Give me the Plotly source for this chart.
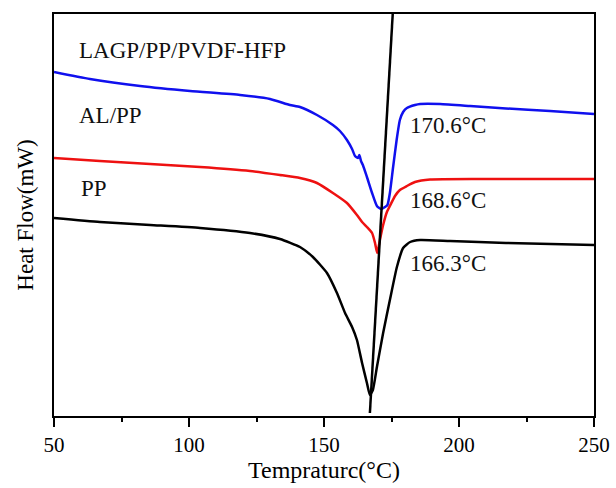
import plotly.graph_objects as go

# Temperature (°C) and heat flow (arbitrary units)
blue_T = [50, 63.3, 81.9, 100.4, 118.9, 130, 137.4, 141.1, 147.4, 153.3, 155.9, 158.5, 160.4,
          161.5, 162.6, 163.1, 163.7, 164.4, 165.9, 167.8, 169.6, 171.1, 172.6, 173.5, 174.4,
          175.6, 176.9, 178.1, 179.3, 180.7, 183.7, 185.6, 193.0, 204.1, 217.4, 233.7, 250]
blue_H = [344, 337, 330, 325, 321, 317, 311, 309, 301, 291, 285, 276, 267,
          260, 258, 261, 255, 251, 239, 223, 210, 207, 209, 211, 223,
          249, 276, 296, 304, 308, 311, 312, 312, 310, 307.5, 305, 302]

red_T = [50, 67.0, 85.6, 104.1, 122.6, 133.7, 141.1, 147.4, 153.3, 158.5, 162.2, 164.1, 165.9,
         167.8, 168.9, 169.7, 170.7, 171.9, 173.3, 174.4, 176.3, 178.1, 180.7, 183.7, 189.3, 207.8, 250]
red_H = [258, 255, 252, 249, 245, 241, 238, 233, 223, 213, 201, 194, 189,
         183, 173, 163, 176, 191, 204, 210, 220, 226, 230, 234, 236.5, 237, 237]

black_T = [50, 67.0, 85.6, 104.1, 122.6, 133.7, 141.1, 145.9, 151.1, 154.8, 157.8, 160.4, 162.2,
           164.1, 165.9, 167.0, 168.1, 169.6, 171.9, 174.4, 177.0, 179.3, 181.9, 185.6, 196.7, 217.4, 250]
black_H = [198, 194, 191, 188, 183, 177, 169, 159, 143, 123, 103, 89, 76,
           53, 33, 21, 26, 49, 83, 116, 149, 168, 174, 176, 175, 173, 171]

tangent_T = [167.0, 175.45]
tangent_H = [3, 402]

sample_labels = ["LAGP/PP/PVDF-HFP", "AL/PP", "PP"]
sample_label_T = [58.4, 58.4, 59.1]
sample_label_H = [366, 301, 228]

peak_labels = ["170.6°C", "168.6°C", "166.3°C"]
peak_label_T = [181.1, 181.1, 181.1]
peak_label_H = [291, 216, 153]

FONT = "Liberation Serif, Times New Roman, serif"

fig = go.Figure()
fig.add_trace(go.Scatter(x=black_T, y=black_H, mode="lines", line=dict(color="black", width=2.5, shape="spline", smoothing=0.5), showlegend=False))
fig.add_trace(go.Scatter(x=red_T, y=red_H, mode="lines", line=dict(color="#ee1111", width=2.5, shape="spline", smoothing=0.5), showlegend=False))
fig.add_trace(go.Scatter(x=blue_T, y=blue_H, mode="lines", line=dict(color="#1010ee", width=2.5, shape="spline", smoothing=0.5), showlegend=False))
fig.add_trace(go.Scatter(x=tangent_T, y=tangent_H, mode="lines", line=dict(color="black", width=2.5), showlegend=False, cliponaxis=True))

for t, x, y in zip(sample_labels, sample_label_T, sample_label_H):
    fig.add_annotation(x=x, y=y, text=t, showarrow=False, xanchor="left", yanchor="middle",
                       font=dict(family=FONT, size=23, color="#111111"))
for t, x, y in zip(peak_labels, peak_label_T, peak_label_H):
    fig.add_annotation(x=x, y=y, text=t, showarrow=False, xanchor="left", yanchor="middle",
                       font=dict(family=FONT, size=23, color="#111111"))

fig.update_layout(
    width=616, height=488,
    margin=dict(l=54, r=22, t=14, b=72, autoexpand=False),
    paper_bgcolor="white", plot_bgcolor="white",
    font=dict(family=FONT, color="black"),
    xaxis=dict(range=[50, 250], tickvals=[50, 100, 150, 200, 250], ticks="outside", ticklen=9,
               tickwidth=1.5, tickcolor="black", showline=True, linecolor="black", linewidth=1.5,
               mirror=True, showgrid=False, zeroline=False, automargin=False,
               tickfont=dict(family=FONT, size=21, color="black"),
               minor=dict(tickvals=[75, 125, 175, 225], ticks="outside", ticklen=4, tickwidth=1.5, tickcolor="black"),
               title=dict(text="Tempraturc(°C)", font=dict(family=FONT, size=24, color="black"), standoff=0)),
    yaxis=dict(range=[0, 402], showticklabels=False, ticks="", showline=True, linecolor="black",
               linewidth=1.5, mirror=True, showgrid=False, zeroline=False, automargin=False,
               title=dict(text="Heat Flow(mW)", font=dict(family=FONT, size=23, color="black"), standoff=12)),
)

fig.write_html("out.html", config={"displayModeBar": False},
               post_script="document.body.style.margin='0';")
